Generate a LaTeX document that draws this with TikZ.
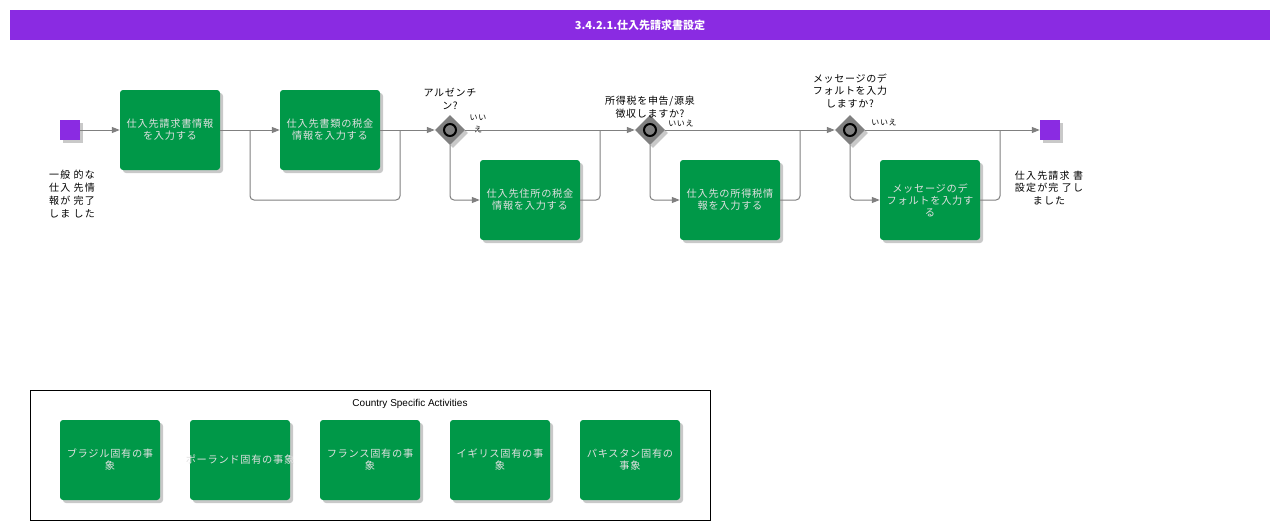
\documentclass[tikz,border=0pt]{standalone}
\usepackage{fontspec}
\setmainfont{Liberation Sans}
\newfontfamily\jp{Noto Sans CJK JP}
\newfontfamily\jps[LetterSpace=7]{Noto Sans CJK JP}
\newfontfamily\jpw[LetterSpace=12]{Noto Sans CJK JP}
\usetikzlibrary{shadows,arrows.meta,shapes.geometric}
\definecolor{purp}{RGB}{138,43,226}
\definecolor{grn}{RGB}{0,152,72}
\definecolor{flow}{RGB}{128,128,128}
\tikzset{
  task/.style={draw=none,fill=grn,rounded corners=3pt,minimum width=100pt,minimum height=80pt,
    inner sep=0pt,text width=98pt,align=center,font=\jps\fontsize{10.2}{12}\selectfont,text=white!88!black,
    drop shadow={shadow xshift=3pt,shadow yshift=-3pt,fill=black!35,opacity=0.6}},
  evt/.style={fill=purp,minimum size=20pt,inner sep=0pt,
    drop shadow={shadow xshift=3pt,shadow yshift=-3pt,fill=black!35,opacity=0.6}},
  gw/.style={diamond,fill=flow,minimum size=30pt,inner sep=0pt,
    drop shadow={shadow xshift=3pt,shadow yshift=-3pt,fill=black!35,opacity=0.6}},
  lbl/.style={font=\jps\fontsize{10}{12.5}\selectfont,align=center,text=black},
  wlbl/.style={font=\jpw\fontsize{10}{12.8}\selectfont,align=center,text=black},
  small/.style={font=\jps\fontsize{8}{12}\selectfont,align=left,text=black},
  fl/.style={draw=flow,line width=1pt,rounded corners=4pt},
  arr/.style={fl,-{Triangle[length=8pt,width=6pt]}},
}
\begin{document}
\begin{tikzpicture}[x=1pt,y=-1pt]
\useasboundingbox (0,0) rectangle (1280,530);
\fill[white] (0,0) rectangle (1280,530);
% title
\node[fill=purp,minimum width=1260pt,minimum height=30pt,inner sep=0pt,font=\bfseries\fontsize{11}{13}\selectfont\jp,text=white] (title) at (640,25) {3.4.2.1.仕入先請求書設定};
% events
\node[evt] (start) at (70,130) {};
\node[evt] (end) at (1050,130) {};
\node[wlbl] (startlbl) at (72,194) {一般 的な\\仕入 先情\\報が 完了\\しま した};
\node[wlbl] (endlbl) at (1049,188) {仕入先請求 書\\設定が完 了し\\ました};
% tasks
\node[task] (t1) at (170,130) {仕入先請求書情報\\を入力する};
\node[task] (t2) at (330,130) {仕入先書類の税金\\情報を入力する};
\node[task] (t3) at (530,200) {仕入先住所の税金\\情報を入力する};
\node[task] (t4) at (730,200) {仕入先の所得税情\\報を入力する};
\node[task] (t5) at (930,200) {メッセージのデ\\フォルトを入力す\\る};
% gateways
\node[gw] (g1) at (450,130) {};
\node[gw] (g2) at (650,130) {};
\node[gw] (g3) at (850,130) {};
\foreach \g in {g1,g2,g3}{\draw[black,line width=2pt,fill=flow] (\g) circle (6pt);}
\node[lbl] (g1l) at (450,99) {アルゼンチ\\ン?};
\node[lbl] (g2l) at (650,107) {所得税を申告/源泉\\徴収しますか?};
\node[lbl] (g3l) at (850,91) {メッセージのデ\\フォルトを入力\\しますか?};
\node[small,align=center] (g1n) at (478,124) {いい\\え};
\node[small] (g2n) at (681,124) {いいえ};
\node[small] (g3n) at (884,123) {いいえ};
% coordinates
\coordinate (b1) at (250,130);
\coordinate (j1) at (400,130);
\coordinate (j2) at (600,130);
\coordinate (j3) at (800,130);
\coordinate (j4) at (1000,130);
% flows
\draw[arr] (start) -- (t1);
\draw[arr] (t1) -- (t2);
\draw[fl] (b1) -- (250,200) -- (400,200) -- (j1);
\draw[arr] (t2.east) -- (g1.west);
\draw[arr] (g1.east) -- (g2.west);
\draw[arr] (g1.south) |- (t3.west);
\draw[fl] (t3.east) -| (j2);
\draw[arr] (g2.east) -- (g3.west);
\draw[arr] (g2.south) |- (t4.west);
\draw[fl] (t4.east) -| (j3);
\draw[arr] (g3.east) -- (end.west);
\draw[arr] (g3.south) |- (t5.west);
\draw[fl] (t5.east) -| (j4);
% country box
\draw[black,line width=0.8pt] (30,390) rectangle (710,520);
\node[font=\fontsize{10}{12}\selectfont] (cbt) at (410,404) {Country Specific Activities};
\node[task] (c1) at (110,460) {ブラジル固有の事\\象};
\node[task] (c2) at (240,460) {\makebox[98pt][c]{ポーランド固有の事象}};
\node[task] (c3) at (370,460) {フランス固有の事\\象};
\node[task] (c4) at (500,460) {イギリス固有の事\\象};
\node[task] (c5) at (630,460) {パキスタン固有の\\事象};
\end{tikzpicture}
\end{document}
